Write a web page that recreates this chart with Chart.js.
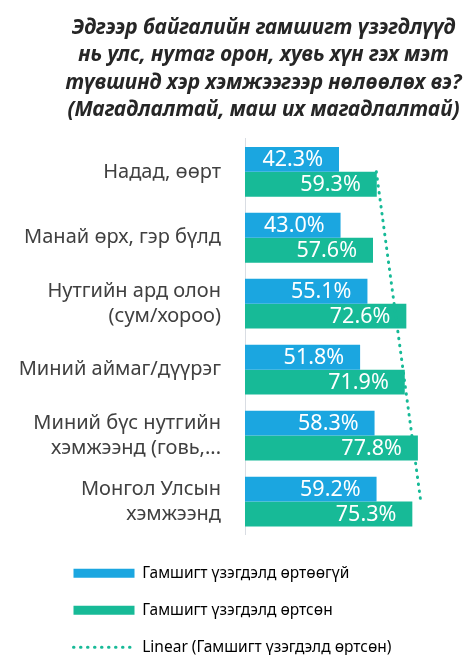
<!DOCTYPE html>
<html>
<head>
<meta charset="utf-8">
<script src="https://cdn.jsdelivr.net/npm/chart.js@4.4.0/dist/chart.umd.min.js"></script>
<style>
  html, body { margin: 0; padding: 0; background: #fff; }
  #wrap { width: 465px; height: 655px; }
</style>
</head>
<body>
<div id="wrap"><canvas id="chart"></canvas></div>
<script>
const titleLines = [
  "Эдгээр байгалийн гамшигт үзэгдлүүд",
  "нь улс, нутаг орон, хувь хүн гэх мэт",
  "түвшинд хэр хэмжээгээр нөлөөлөх вэ?",
  "(Магадлалтай, маш их магадлалтай)"
];
const categories = [
  "Надад, өөрт",
  "Манай өрх, гэр бүлд",
  ["Нутгийн ард олон", "(сум/хороо)"],
  "Миний аймаг/дүүрэг",
  ["Миний бүс нутгийн", "хэмжээнд (говь,..."],
  ["Монгол Улсын", "хэмжээнд"]
];
const notAffected = [42.3, 43.0, 55.1, 51.8, 58.3, 59.2];
const affected = [59.3, 57.6, 72.6, 71.9, 77.8, 75.3];
// linear trend ends (first and last category)
const trendAffected = [59.1, null, null, null, null, 79.1];
const seriesNames = [
  "Гамшигт үзэгдэлд өртөөгүй",
  "Гамшигт үзэгдэлд өртсөн",
  "Linear (Гамшигт үзэгдэлд өртсөн)"
];

const BLUE = "#1ba6e0";
const GREEN = "#17ba97";

Chart.defaults.font.family = "'Noto Sans', sans-serif";

// white value labels near the end of each bar
const barLabels = {
  id: "barLabels",
  afterDatasetsDraw(chart) {
    const ctx = chart.ctx;
    ctx.save();
    ctx.font = "21.5px 'Noto Sans', sans-serif";
    ctx.fillStyle = "#ffffff";
    ctx.textAlign = "right";
    ctx.textBaseline = "middle";
    [0, 1].forEach(i => {
      chart.getDatasetMeta(i).data.forEach((bar, j) => {
        const v = chart.data.datasets[i].data[j];
        ctx.fillText(v.toFixed(1) + "%", bar.x - 16, bar.y + 1);
      });
    });
    ctx.restore();
  }
};

// title sits a bit right of centre, legend is indented
const nudge = {
  id: "nudge",
  afterLayout(chart) {
    chart.titleBlock.left += 62;
    chart.legend.left += 52;
  }
};

new Chart(document.getElementById("chart"), {
  type: "bar",
  data: {
    labels: categories,
    datasets: [
      {
        label: seriesNames[0],
        data: notAffected,
        backgroundColor: BLUE,
        barPercentage: 1,
        categoryPercentage: 0.755,
        order: 1
      },
      {
        label: seriesNames[1],
        data: affected,
        backgroundColor: GREEN,
        barPercentage: 1,
        categoryPercentage: 0.755,
        order: 1
      },
      {
        type: "line",
        label: seriesNames[2],
        data: trendAffected,
        spanGaps: true,
        borderColor: GREEN,
        borderWidth: 3,
        borderDash: [0.5, 6.5],
        borderCapStyle: "round",
        pointRadius: 0,
        fill: false,
        order: 0
      }
    ]
  },
  options: {
    indexAxis: "y",
    responsive: true,
    maintainAspectRatio: false,
    animation: false,
    layout: { padding: { left: 0, right: 0, top: 0, bottom: -10 } },
    plugins: {
      title: {
        display: true,
        text: titleLines,
        color: "#262626",
        font: { size: 20.8, weight: "bold", style: "italic", lineHeight: 1.32 },
        padding: { top: 14, bottom: 15 }
      },
      legend: {
        position: "bottom",
        align: "start",
        labels: {
          color: "#404040",
          font: { size: 15.5 },
          usePointStyle: true,
          pointStyleWidth: 61,
          boxHeight: 9,
          padding: 21.5,
          generateLabels: () => [
            { text: seriesNames[0], fillStyle: BLUE, strokeStyle: BLUE, lineWidth: 0, pointStyle: "rect", datasetIndex: 0 },
            { text: seriesNames[1], fillStyle: GREEN, strokeStyle: GREEN, lineWidth: 0, pointStyle: "rect", datasetIndex: 1 },
            { text: seriesNames[2], fillStyle: "rgba(0,0,0,0)", strokeStyle: GREEN, lineWidth: 3,
              lineDash: [0.5, 6.5], lineCap: "round", pointStyle: "line", datasetIndex: 2 }
          ]
        }
      },
      tooltip: { enabled: false }
    },
    scales: {
      x: {
        min: 0,
        max: 99,
        display: true,
        grid: { display: false },
        border: { display: false },
        ticks: { display: false },
        afterFit: s => { s.height = 9.5; }
      },
      y: {
        grid: { display: false },
        border: { color: "#d9dde3", width: 1 },
        ticks: {
          color: "#404040",
          font: { size: 20, lineHeight: 1.25 },
          padding: 16
        },
        afterFit: s => { s.width = 245; }
      }
    }
  },
  plugins: [barLabels, nudge]
});
</script>
</body>
</html>
